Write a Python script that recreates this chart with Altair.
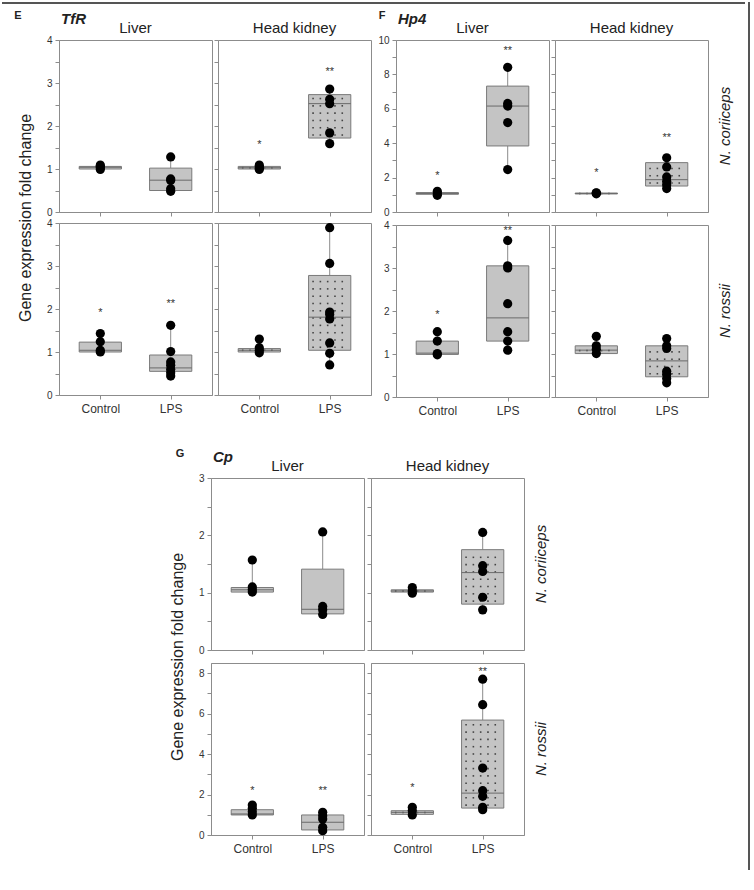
import altair as alt
import pandas as pd

FONT = "Liberation Sans"
LINE = "#8c8c8c"
FRAME = "#555555"
BOX_FILL = "#c4c4c4"
BOX_EDGE = "#7a7a7a"
MEDIAN = "#6a6a6a"
WHISKER = "#8c8c8c"
TEXT = "#222222"

W, H = 153, 172
X_DOMAIN = [0.413, 2.587]
HALF = 0.3
POS = [1, 2]
GROUPS = ["Control", "LPS"]

# ---------------------------------------------------------------- TfR
TFR_COR_LIVER_PTS = ([0.99, 1.03, 1.06, 1.09], [0.48, 0.54, 0.73, 0.77, 1.28])
TFR_COR_LIVER_BOX = ((1.00, 1.04, 1.06), (0.50, 0.74, 1.02))
TFR_COR_LIVER_SIG = (None, None)
TFR_COR_HK_PTS = ([0.99, 1.02, 1.05, 1.09], [1.59, 1.84, 2.52, 2.62, 2.86])
TFR_COR_HK_BOX = ((1.00, 1.03, 1.06), (1.72, 2.52, 2.73))
TFR_COR_HK_SIG = (("*", 1.6), ("**", 3.3))
TFR_ROS_LIVER_PTS = ([1.00, 1.04, 1.24, 1.43], [0.44, 0.52, 0.60, 0.69, 0.77, 1.01, 1.62])
TFR_ROS_LIVER_BOX = ((1.00, 1.04, 1.23), (0.55, 0.63, 0.93))
TFR_ROS_LIVER_SIG = (("*", 1.95), ("**", 2.17))
TFR_ROS_HK_PTS = ([0.98, 1.04, 1.10, 1.30], [0.70, 0.97, 1.21, 1.77, 1.87, 1.93, 3.06, 3.89])
TFR_ROS_HK_BOX = ((1.00, 1.04, 1.08), (1.04, 1.81, 2.78))
TFR_ROS_HK_SIG = (None, None)

# ---------------------------------------------------------------- Hp4
HP4_COR_LIVER_PTS = ([0.97, 1.07, 1.20], [2.47, 5.20, 6.16, 6.31, 8.41])
HP4_COR_LIVER_BOX = ((1.03, 1.08, 1.13), (3.84, 6.16, 7.32))
HP4_COR_LIVER_SIG = (("*", 2.23), ("**", 9.46))
HP4_COR_HK_PTS = ([1.06, 1.10, 1.12], [1.36, 1.59, 1.79, 2.04, 2.62, 3.15])
HP4_COR_HK_BOX = ((1.05, 1.08, 1.10), (1.51, 1.88, 2.87))
HP4_COR_HK_SIG = (("*", 2.37), ("**", 4.4))
HP4_ROS_LIVER_PTS = ([0.98, 1.01, 1.30, 1.52], [1.09, 1.30, 1.52, 2.17, 3.00, 3.05, 3.64])
HP4_ROS_LIVER_BOX = ((0.99, 1.02, 1.30), (1.30, 1.84, 3.05))
HP4_ROS_LIVER_SIG = (("*", 1.95), ("**", 3.9))
HP4_ROS_HK_PTS = ([1.01, 1.11, 1.19, 1.41], [0.33, 0.43, 0.53, 0.60, 1.13, 1.19, 1.36])
HP4_ROS_HK_BOX = ((1.01, 1.09, 1.19), (0.47, 0.84, 1.19))
HP4_ROS_HK_SIG = (None, None)

# ---------------------------------------------------------------- Cp
CP_COR_LIVER_PTS = ([1.01, 1.05, 1.10, 1.57], [0.62, 0.70, 0.76, 2.06])
CP_COR_LIVER_BOX = ((1.01, 1.05, 1.09), (0.63, 0.71, 1.41))
CP_COR_LIVER_SIG = (None, None)
CP_COR_HK_PTS = ([0.99, 1.03, 1.09], [0.70, 0.92, 1.37, 1.47, 2.05])
CP_COR_HK_BOX = ((1.01, 1.03, 1.05), (0.80, 1.35, 1.75))
CP_COR_HK_SIG = (None, None)
CP_ROS_LIVER_PTS = ([0.99, 1.15, 1.32, 1.48], [0.21, 0.38, 0.79, 0.95, 1.12])
CP_ROS_LIVER_BOX = ((0.99, 1.04, 1.25), (0.25, 0.63, 0.99))
CP_ROS_LIVER_SIG = (("*", 2.27), ("**", 2.27))
CP_ROS_HK_PTS = ([0.99, 1.20, 1.37], [1.25, 1.37, 1.91, 2.19, 3.31, 6.44, 7.70])
CP_ROS_HK_BOX = ((1.02, 1.12, 1.20), (1.33, 2.07, 5.68))
CP_ROS_HK_SIG = (("*", 2.4), ("**", 8.16))

TISSUES = ["Liver", "Head kidney"]
SPECIES = ["N. coriiceps", "N. rossii"]
Y_TITLE = "Gene expression fold change"


def stipple(pos, q1, q3, ymax):
    """Grid of small dots used as the stippled fill of head-kidney boxes."""
    px_x = W / (X_DOMAIN[1] - X_DOMAIN[0])
    px_y = H / ymax
    step = 7.3
    xs, off = [], -HALF * px_x + 4.5
    while off < HALF * px_x - 3:
        xs.append(pos + off / px_x)
        off += step
    span = (q3 - q1) * px_y
    if span < 6:
        ys = [(q1 + q3) / 2]
    else:
        ys, o = [], 3.0
        while o < span - 2:
            ys.append(q1 + o / px_y)
            o += step
    return [{"x": x, "y": y} for x in xs for y in ys]


def label_layer(text, x, y, **style):
    return alt.Chart(pd.DataFrame({"t": [text]})).mark_text(font=FONT, color=TEXT, **style).encode(
        x=alt.value(x), y=alt.value(y), text="t:N"
    )


def panel(pts, box, sig, ymax, tick_step, label_step, *, left, bottom, dotted,
          title=None, ytitle_y=None, letter=None, letter_x=0, gene=None, row=None):
    n = int(round(ymax // tick_step))
    ticks = [k * tick_step for k in range(n + 1)]
    xscale = alt.Scale(domain=X_DOMAIN, nice=False, zero=False)
    yscale = alt.Scale(domain=[0, ymax], nice=False)
    xaxis = alt.Axis(values=POS, labelExpr="datum.value == 1 ? 'Control' : 'LPS'", labels=bottom,
                     tickSize=4, title=None, labelFontSize=12, labelPadding=4, labelColor="#333")
    ykw = dict(values=ticks, labels=left, tickSize=4, labelFontSize=10, labelPadding=3, labelColor="#333",
               labelExpr=f"datum.value % {label_step} === 0 ? format(datum.value, 'd') : ''")
    if ytitle_y is not None:
        ykw.update(title=Y_TITLE, titleX=-26, titleY=ytitle_y, titleAngle=270, titleAlign="center",
                   titleBaseline="bottom", titleFontSize=16, titleFontWeight="normal", titleColor=TEXT)
    else:
        ykw.update(title=None)
    yaxis = alt.Axis(**ykw)

    def X(f):
        return alt.X(f, scale=xscale, axis=xaxis)

    def Y(f):
        return alt.Y(f, scale=yscale, axis=yaxis)

    box_df = pd.DataFrame({
        "pos": POS,
        "lo": [p - HALF for p in POS],
        "hi": [p + HALF for p in POS],
        "q1": [b[0] for b in box],
        "med": [b[1] for b in box],
        "q3": [b[2] for b in box],
        "wmin": [min(v) for v in pts],
        "wmax": [max(v) for v in pts],
    })
    pts_df = pd.DataFrame([{"pos": p, "value": v} for p, vals in zip(POS, pts) for v in vals])
    base = alt.Chart(box_df)
    layers = [
        base.mark_rule(color=WHISKER, strokeWidth=1).encode(x=X("pos:Q"), y=Y("q3:Q"), y2="wmax:Q"),
        base.mark_rule(color=WHISKER, strokeWidth=1).encode(x=X("pos:Q"), y=Y("wmin:Q"), y2="q1:Q"),
        base.mark_rect(fill=BOX_FILL, stroke=BOX_EDGE, strokeWidth=1).encode(
            x=X("lo:Q"), x2="hi:Q", y=Y("q1:Q"), y2="q3:Q"),
    ]
    if dotted:
        dots = []
        for p, b in zip(POS, box):
            dots += stipple(p, b[0], b[2], ymax)
        layers.append(alt.Chart(pd.DataFrame(dots)).mark_square(size=2.5, color="#444", opacity=1)
                      .encode(x=X("x:Q"), y=Y("y:Q")))
    layers.append(base.mark_rule(color=MEDIAN, strokeWidth=1).encode(x=X("lo:Q"), x2="hi:Q", y=Y("med:Q")))
    layers.append(alt.Chart(pts_df).mark_circle(size=85, color="black", opacity=1)
                  .encode(x=X("pos:Q"), y=Y("value:Q")))
    sig_rows = [{"pos": p, "y": s[1], "mark": s[0]} for p, s in zip(POS, sig) if s]
    if sig_rows:
        layers.append(alt.Chart(pd.DataFrame(sig_rows)).mark_text(
            font=FONT, fontSize=11, color="#333", baseline="middle", dy=2)
            .encode(x=X("pos:Q"), y=Y("y:Q"), text="mark:N"))
    if title:
        layers.append(label_layer(title, W / 2, -7, fontSize=15, align="center", baseline="alphabetic"))
    if letter:
        layers.append(label_layer(letter, letter_x, -24, fontSize=11, fontWeight="bold",
                                  align="center", baseline="middle"))
    if gene:
        layers.append(label_layer(gene, 2, -21, fontSize=15, fontWeight="bold", fontStyle="italic",
                                  align="left", baseline="middle"))
    if row:
        layers.append(label_layer(row, W + 17, H / 2, fontSize=15, fontStyle="italic", angle=270,
                                  align="center", baseline="middle"))
    return alt.layer(*layers).properties(width=W, height=H)


def block(cells, ymax, tick_step, label_step, letter, letter_x, gene, hgap, vgap, ytitle, rows):
    charts = []
    for r in range(2):
        for c in range(2):
            pts, box, sig = cells[r][c]
            charts.append(panel(
                pts, box, sig, ymax[r], tick_step[r], label_step[r],
                left=(c == 0), bottom=(r == 1), dotted=(c == 1),
                title=TISSUES[c] if r == 0 else None,
                ytitle_y=(H + vgap / 2) if (ytitle and r == 0 and c == 0) else None,
                letter=letter if (r == 0 and c == 0) else None, letter_x=letter_x,
                gene=gene if (r == 0 and c == 0) else None,
                row=SPECIES[r] if (rows and c == 1) else None,
            ))
    return alt.concat(*charts, columns=2, spacing={"row": vgap, "column": hgap}, bounds="flush")


tfr = block(
    [[(TFR_COR_LIVER_PTS, TFR_COR_LIVER_BOX, TFR_COR_LIVER_SIG), (TFR_COR_HK_PTS, TFR_COR_HK_BOX, TFR_COR_HK_SIG)],
     [(TFR_ROS_LIVER_PTS, TFR_ROS_LIVER_BOX, TFR_ROS_LIVER_SIG), (TFR_ROS_HK_PTS, TFR_ROS_HK_BOX, TFR_ROS_HK_SIG)]],
    ymax=[4, 4], tick_step=[0.5, 0.5], label_step=[1, 1],
    letter="E", letter_x=-41, gene="TfR", hgap=6, vgap=11, ytitle=True, rows=False)

hp4 = block(
    [[(HP4_COR_LIVER_PTS, HP4_COR_LIVER_BOX, HP4_COR_LIVER_SIG), (HP4_COR_HK_PTS, HP4_COR_HK_BOX, HP4_COR_HK_SIG)],
     [(HP4_ROS_LIVER_PTS, HP4_ROS_LIVER_BOX, HP4_ROS_LIVER_SIG), (HP4_ROS_HK_PTS, HP4_ROS_HK_BOX, HP4_ROS_HK_SIG)]],
    ymax=[10, 4], tick_step=[1, 0.5], label_step=[2, 1],
    letter="F", letter_x=-14, gene="Hp4", hgap=6, vgap=13, ytitle=False, rows=True)

cp = block(
    [[(CP_COR_LIVER_PTS, CP_COR_LIVER_BOX, CP_COR_LIVER_SIG), (CP_COR_HK_PTS, CP_COR_HK_BOX, CP_COR_HK_SIG)],
     [(CP_ROS_LIVER_PTS, CP_ROS_LIVER_BOX, CP_ROS_LIVER_SIG), (CP_ROS_HK_PTS, CP_ROS_HK_BOX, CP_ROS_HK_SIG)]],
    ymax=[3, 8.5], tick_step=[0.5, 1], label_step=[1, 2],
    letter="G", letter_x=-31, gene="Cp", hgap=7, vgap=13, ytitle=True, rows=True)

one = pd.DataFrame({"a": [0]})
blank = alt.ViewBackground(stroke="transparent")

# empty strip that shifts the Cp block to the right
spacer = (alt.Chart(one).mark_point(opacity=0)
          .encode(x=alt.value(0), y=alt.value(0))
          .properties(width=108, height=1, view=blank))

# page frame: a rule along the top edge and one down the right edge
frame_top = (alt.Chart(one).mark_rule(color=FRAME, strokeWidth=2)
             .encode(x=alt.value(-57), x2=alt.value(686), y=alt.value(1))
             .properties(width=1, height=1, view=blank))
frame_right = (alt.Chart(one).mark_rule(color=FRAME, strokeWidth=2)
               .encode(x=alt.value(0), y=alt.value(0), y2=alt.value(868))
               .properties(width=1, height=1, view=blank))

body = alt.vconcat(
    alt.hconcat(tfr, hp4, spacing=5),
    alt.hconcat(spacer, cp, spacing=0),
    spacing=30,
)

chart = (
    alt.hconcat(alt.vconcat(frame_top, body, spacing=4), frame_right, spacing=0)
    .properties(padding={"left": 0, "top": 0, "right": 0, "bottom": 0}, background="white")
    .configure_view(stroke=LINE, strokeWidth=1)
    .configure_axis(domainColor=LINE, tickColor=LINE, grid=False, labelFont=FONT, titleFont=FONT,
                    domainWidth=1, tickWidth=1)
    .configure_title(font=FONT)
)

chart.save("out.html", embed_options={"renderer": "svg", "actions": False})
